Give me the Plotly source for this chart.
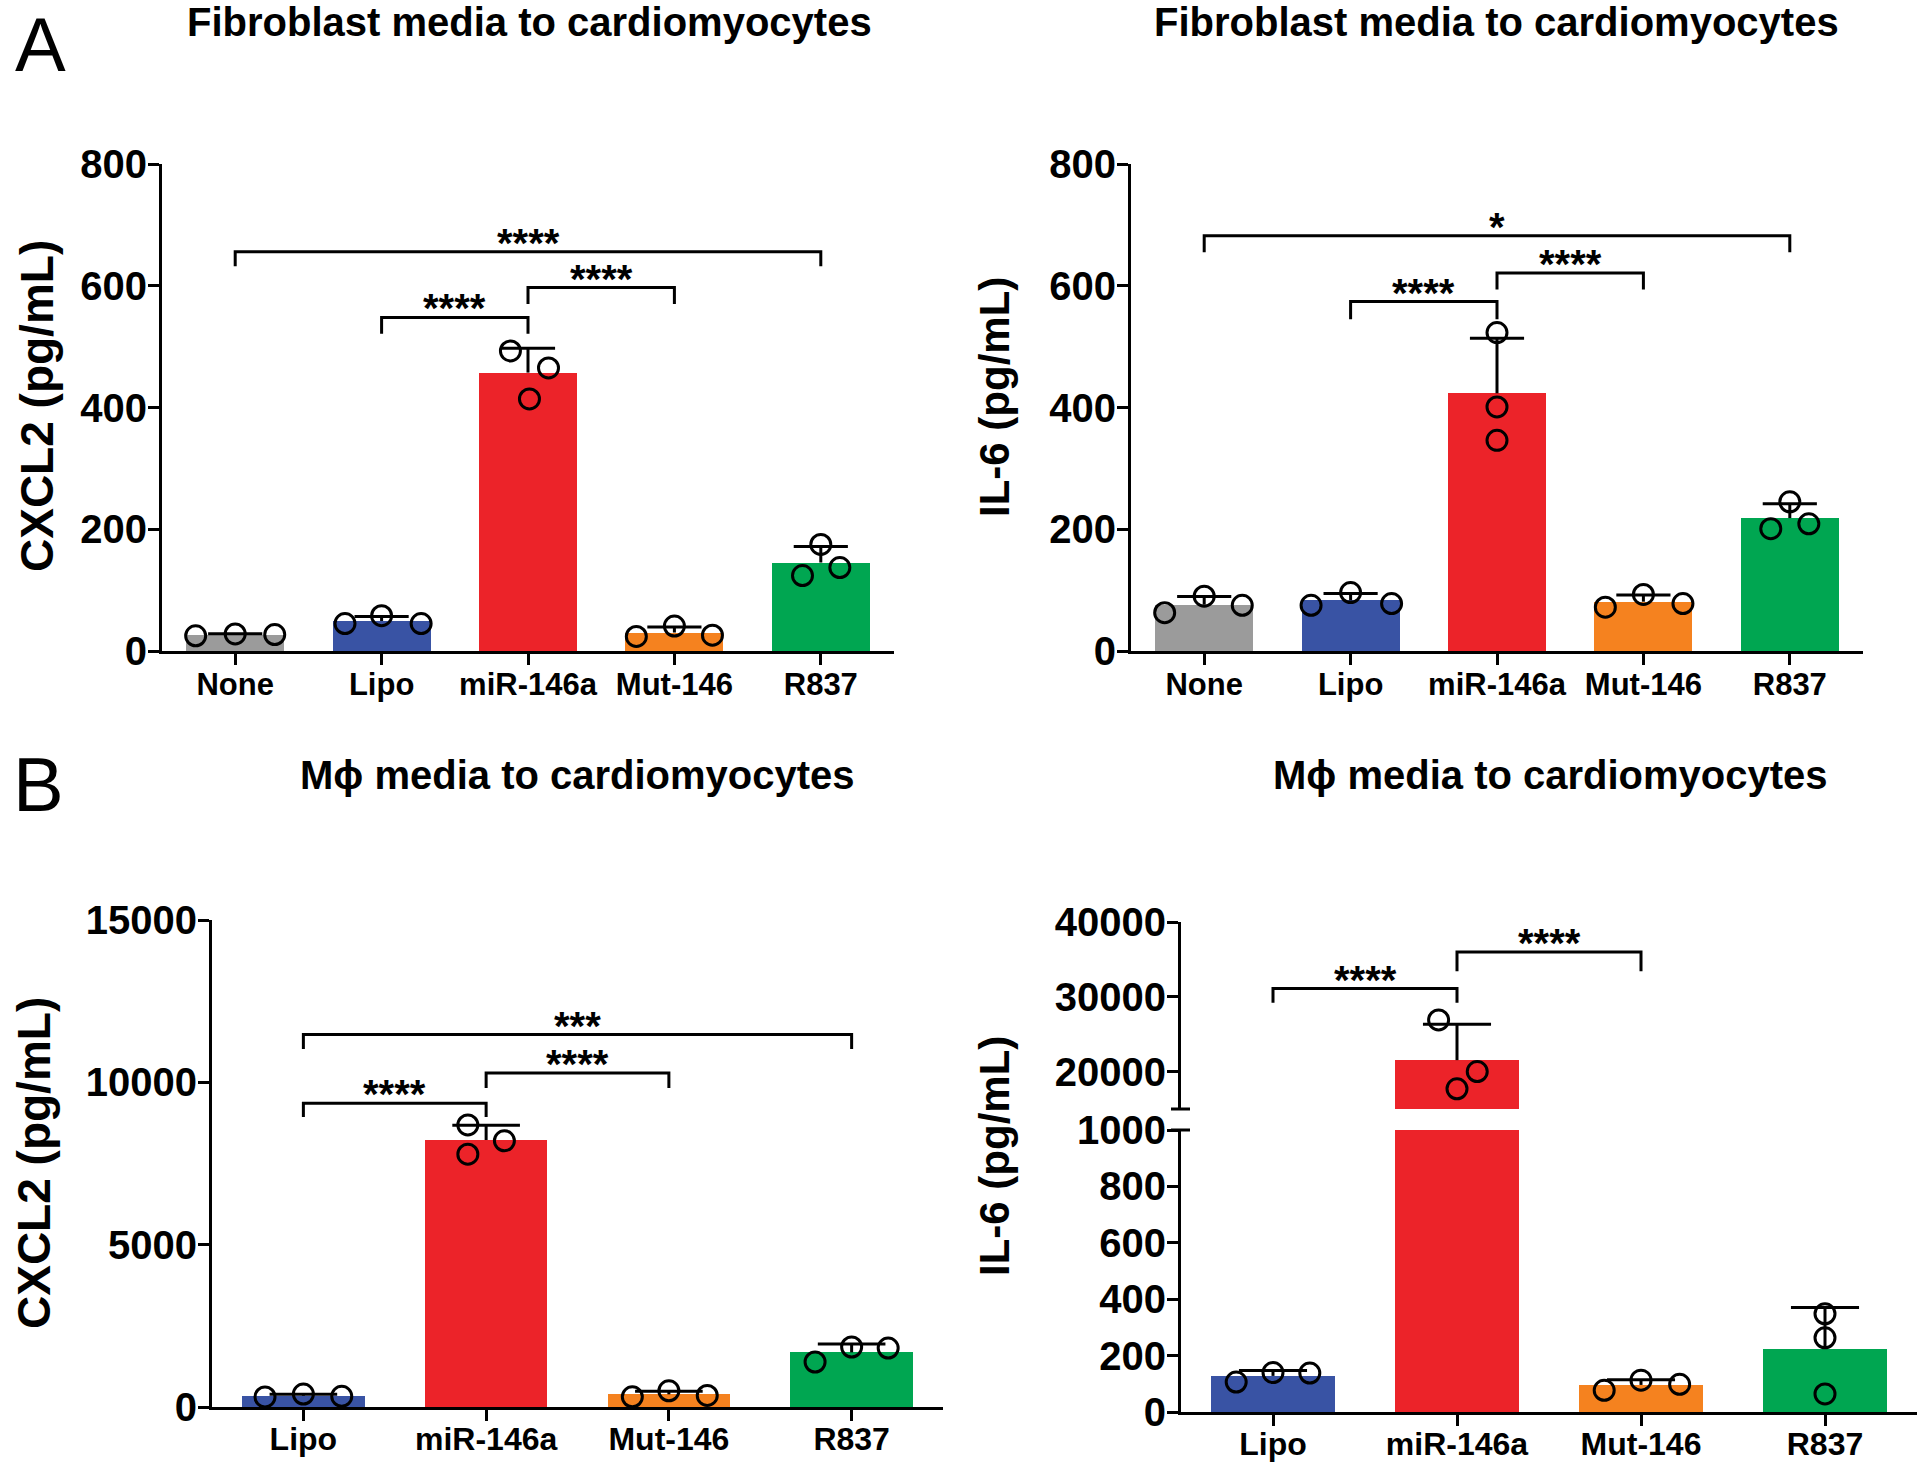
import numpy as np
import plotly.graph_objects as go

# ---------------- DATA ----------------
cats_A = ["None", "Lipo", "miR-146a", "Mut-146", "R837"]
cats_B = ["Lipo", "miR-146a", "Mut-146", "R837"]

# individual replicates (pg/mL)
cxcl2_fib = [[25, 28, 27], [45, 58, 45], [493, 465, 414], [24, 41, 26], [124, 175, 137]]
il6_fib = [[63, 90, 75], [75, 96, 78], [523, 401, 346], [72, 93, 78], [201, 245, 209]]
cxcl2_mac = [[310, 400, 330], [8686, 8200, 7786], [314, 500, 357], [1386, 1848, 1817]]
il6_mac = [[106, 140, 138], [17700, 26900, 20000], [77, 113, 98], [348, 263, 64]]

# significance brackets: (from, to, bar height, tip height, label)
sig_cxcl2_fib = [(0, 4, 656, 632, "****"), (1, 2, 548, 521, "****"), (2, 3, 597, 570, "****")]
sig_il6_fib = [(0, 4, 682, 655, "*"), (1, 2, 574, 545, "****"), (2, 3, 621, 594, "****")]
sig_cxcl2_mac = [(0, 3, 11471, 11029, "***"), (0, 1, 9357, 8929, "****"), (1, 2, 10286, 9829, "****")]
sig_il6_mac = [(0, 1, 31100, 29200, "****"), (1, 2, 36000, 33400, "****")]

titles = ["Fibroblast media to cardiomyocytes", "Fibroblast media to cardiomyocytes",
          "M\u03d5 media to cardiomyocytes", "M\u03d5 media to cardiomyocytes"]
ytitles = ["CXCL2 (pg/mL)", "IL-6 (pg/mL)", "CXCL2 (pg/mL)", "IL-6 (pg/mL)"]

# ---------------- STYLE ----------------
colors_A = ["#9b9b9b", "#3953a4", "#ec2329", "#f5821f", "#00a651"]
colors_B = colors_A[1:]
jit_cxcl2_fib = [[-0.27, 0, 0.27], [-0.25, 0, 0.27], [-0.12, 0.14, 0.01], [-0.26, 0, 0.26], [-0.125, 0, 0.13]]
jit_il6_fib = [[-0.27, 0, 0.26], [-0.27, 0, 0.28], [0, 0, 0], [-0.26, 0, 0.27], [-0.13, 0, 0.13]]
jit_cxcl2_mac = [[-0.21, 0, 0.21], [-0.1, 0.1, -0.1], [-0.2, 0, 0.21], [-0.2, 0, 0.2]]
jit_il6_mac = [[-0.2, 0, 0.2], [0.0, -0.1, 0.11], [-0.2, 0, 0.21], [0, 0, 0]]

W, H = 1920, 1466
FONT = "Arial, 'Liberation Sans', Helvetica, sans-serif"
CAP = 0.185  # half cap width, category units


def px(x):
    return x / W


def py(y):
    return 1 - y / H


fig = go.Figure()


def add_panel(xa, ya, cats, colors, reps, jit, extra_y=None):
    n = len(cats)
    means = [float(np.mean(r)) for r in reps]
    sds = [float(np.std(r, ddof=1)) for r in reps]
    yaxes = [ya] + ([extra_y] if extra_y else [])
    for yy in yaxes:
        fig.add_trace(go.Bar(
            x=list(range(n)), y=means, width=0.67, xaxis=xa, yaxis=yy,
            marker=dict(color=colors, line=dict(width=0)),
            showlegend=False, hoverinfo="skip"))
        ex, ey = [], []
        for i in range(n):
            top = means[i] + sds[i]
            ex += [i, i, None, i - CAP, i + CAP, None]
            ey += [means[i], top, None, top, top, None]
        fig.add_trace(go.Scatter(
            x=ex, y=ey, mode="lines", xaxis=xa, yaxis=yy,
            line=dict(color="black", width=3), showlegend=False, hoverinfo="skip"))
        xs, ys = [], []
        for i, r in enumerate(reps):
            for j, v in enumerate(r):
                xs.append(i + jit[i][j])
                ys.append(v)
        fig.add_trace(go.Scatter(
            x=xs, y=ys, mode="markers", xaxis=xa, yaxis=yy,
            marker=dict(symbol="circle-open", size=20, color="black", line=dict(width=3)),
            showlegend=False, hoverinfo="skip"))


add_panel("x", "y", cats_A, colors_A, cxcl2_fib, jit_cxcl2_fib)
add_panel("x2", "y2", cats_A, colors_A, il6_fib, jit_il6_fib)
add_panel("x3", "y3", cats_B, colors_B, cxcl2_mac, jit_cxcl2_mac)
add_panel("x4", "y4", cats_B, colors_B, il6_mac, jit_il6_mac, extra_y="y5")

shapes = []
annots = []


def add_brackets(xref, yref, sigs):
    for a, b, hy, tip, lab in sigs:
        shapes.append(dict(type="path", xref=xref, yref=yref,
                           path=f"M {a},{tip} L {a},{hy} L {b},{hy} L {b},{tip}",
                           line=dict(color="black", width=3)))
        annots.append(dict(x=(a + b) / 2, y=hy, xref=xref, yref=yref, text=lab,
                           showarrow=False, yanchor="bottom", yshift=-15,
                           font=dict(family=FONT, size=40, color="black", weight="bold")))


add_brackets("x", "y", sig_cxcl2_fib)
add_brackets("x2", "y2", sig_il6_fib)
add_brackets("x3", "y3", sig_cxcl2_mac)
add_brackets("x4", "y5", sig_il6_mac)

# axis break marks (panel B, IL-6)
for yb in (1109, 1130):
    shapes.append(dict(type="line", xref="paper", yref="paper",
                       x0=px(1171), x1=px(1190), y0=py(yb), y1=py(yb),
                       line=dict(color="black", width=3)))

# titles
title_pos = [(529, 22), (1496, 22), (577, 775), (1550, 775)]
for t, (tx, ty) in zip(titles, title_pos):
    annots.append(dict(x=px(tx), y=py(ty), xref="paper", yref="paper", text=t,
                       showarrow=False, xanchor="center", yanchor="middle",
                       font=dict(family=FONT, size=40, color="black", weight="bold")))

ytitle_pos = [(37, 406), (994, 397), (34, 1163), (994, 1156)]
ytitle_size = [46, 42, 46, 42]
for t, (tx, ty), fs in zip(ytitles, ytitle_pos, ytitle_size):
    annots.append(dict(x=px(tx), y=py(ty), xref="paper", yref="paper", text=t,
                       showarrow=False, xanchor="center", yanchor="middle", textangle=-90,
                       font=dict(family=FONT, size=fs, color="black", weight="bold")))

for lab, (lx, ly) in zip(["A", "B"], [(40, 44), (38, 784)]):
    annots.append(dict(x=px(lx), y=py(ly), xref="paper", yref="paper", text=lab,
                       showarrow=False, xanchor="center", yanchor="middle",
                       font=dict(family=FONT, size=76, color="black")))

axis_common = dict(showline=True, linecolor="black", linewidth=3, ticks="outside",
                   ticklen=11, tickwidth=3, tickcolor="black", showgrid=False, zeroline=False,
                   automargin=False)
tickfont_y = dict(family=FONT, size=40, color="black", weight="bold")


def xaxis(dom, n, anchor, fsize, standoff):
    return dict(domain=[px(dom[0]), px(dom[1])], range=[-0.5, n - 0.5], anchor=anchor,
                tickvals=list(range(n)), ticktext=cats_A if n == 5 else cats_B,
                tickfont=dict(family=FONT, size=fsize, color="black", weight="bold"),
                ticklabelstandoff=standoff, **axis_common)


def yaxis(dom, rng, anchor, tickvals):
    return dict(domain=[py(dom[0]), py(dom[1])], range=rng, anchor=anchor,
                tickvals=tickvals, ticktext=[str(v) for v in tickvals],
                tickfont=tickfont_y, ticklabelstandoff=-7, **axis_common)


fig.update_layout(
    width=W, height=H, margin=dict(l=0, r=0, t=0, b=0, autoexpand=False),
    paper_bgcolor="white", plot_bgcolor="white", bargap=0,
    xaxis=xaxis((162, 894), 5, "y", 31, -7),
    yaxis=yaxis((651, 164), [0, 800], "x", [0, 200, 400, 600, 800]),
    xaxis2=xaxis((1131, 1863), 5, "y2", 31, -7),
    yaxis2=yaxis((651, 164), [0, 800], "x2", [0, 200, 400, 600, 800]),
    xaxis3=xaxis((212, 943), 4, "y3", 32, -9),
    yaxis3=yaxis((1407, 920), [0, 15000], "x3", [0, 5000, 10000, 15000]),
    xaxis4=xaxis((1181, 1917), 4, "y4", 32, -9),
    yaxis4=yaxis((1412, 1130), [0, 1000], "x4", [0, 200, 400, 600, 800, 1000]),
    yaxis5=yaxis((1109, 922), [15000, 40000], "x4", [20000, 30000, 40000]),
    shapes=shapes, annotations=annots,
)

fig.write_html("out.html", config={"displayModeBar": False},
               post_script="document.body.style.margin='0';document.body.style.overflow='hidden';")
